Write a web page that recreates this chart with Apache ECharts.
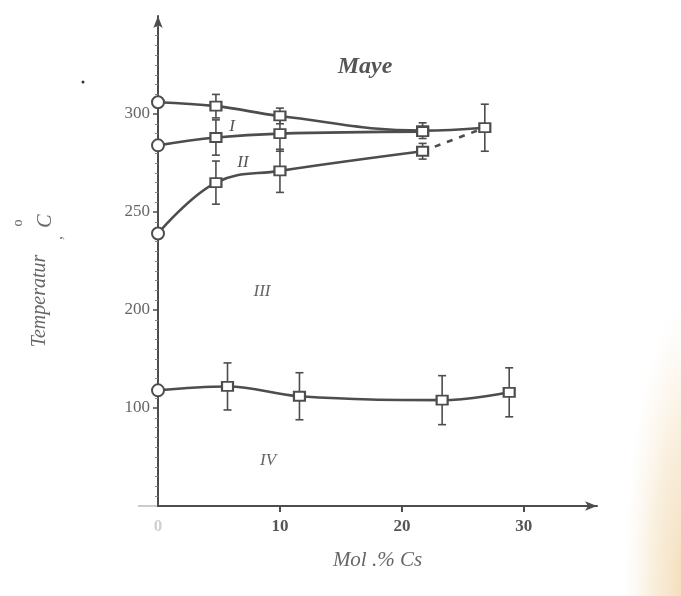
<!DOCTYPE html>
<html><head><meta charset="utf-8">
<script src="https://cdn.jsdelivr.net/npm/echarts@6/dist/echarts.min.js"></script>
<style>html,body{margin:0;padding:0;background:#fff}#c{width:681px;height:596px}</style>
</head><body><div id="c"></div>
<script>
// ---- data (x = mol % Cs, y = axis units) ----
var topX = [0, 4.75, 10, 21.7, 26.8];
var topY = [306, 304, 299, 291.5, 293];
var topErr = [0, 6, 4, 4, 12];
var iX = [0, 4.75, 10, 21.7];
var iY = [284, 288, 290, 291];
var iErr = [0, 9, 9, 0];
var iiX = [0, 4.75, 10, 21.7];
var iiY = [239, 265, 271, 281];
var iiErr = [0, 11, 11, 4];
var dashX = [21.7, 26.8];
var dashY = [281, 293];
var lowX = [0, 5.7, 11.6, 23.3, 28.8];
var lowY = [159, 161, 156, 154, 158];
var lowErr = [0, 12, 12, 12.5, 12.5];
var xTicks = [0, 10, 20, 30];
var xTickLabels = ['0', '10', '20', '30'];
var yTicks = [150, 200, 250, 300];
var yTickLabels = ['100', '200', '250', '300'];

var C = '#4d4d4d';
function pts(xs, ys) {
  return xs.map(function (x, i) {
    return {
      value: [x, ys[i]],
      symbol: x === 0 ? 'circle' : 'rect',
      symbolSize: x === 0 ? 12 : [11, 9]
    };
  });
}
function errs(xs, ys, es) {
  var out = [];
  xs.forEach(function (x, i) { if (es[i] > 0) out.push([x, ys[i] - es[i], ys[i] + es[i]]); });
  return out;
}
var errData = [].concat(errs(topX, topY, topErr), errs(iX, iY, iErr), errs(iiX, iiY, iiErr), errs(lowX, lowY, lowErr));

function lineSeries(xs, ys) {
  return {
    type: 'line', smooth: 0.4, data: pts(xs, ys), z: 3,
    lineStyle: { color: C, width: 2.6 },
    itemStyle: { color: '#fff', borderColor: C, borderWidth: 2 }
  };
}

var chart = echarts.init(document.getElementById('c'));
chart.setOption({
  backgroundColor: '#fff',
  animation: false,
  grid: { left: 158, right: 84, top: 16, bottom: 90, containLabel: false },
  xAxis: {
    type: 'value', min: 0, max: 36, interval: 10,
    name: 'Mol .% Cs', nameLocation: 'middle', nameGap: 44,
    nameTextStyle: { fontFamily: 'Liberation Serif', fontStyle: 'italic', fontSize: 21, color: '#666' },
    axisLine: { show: true, symbol: ['none', 'arrow'], symbolSize: [7, 12], lineStyle: { color: C, width: 2 } },
    axisTick: { show: true, length: 6, lineStyle: { color: C, width: 2 }, customValues: [10, 20, 30] },
    splitLine: { show: false },
    axisLabel: {
      margin: 12, fontFamily: 'Liberation Serif', fontWeight: 'bold', fontSize: 17, color: '#555',
      customValues: xTicks,
      formatter: function (v) {
        var i = xTicks.indexOf(v);
        if (i < 0) return '';
        return v === 0 ? '{z|' + xTickLabels[i] + '}' : xTickLabels[i];
      },
      rich: { z: { color: '#d0d0d0', fontFamily: 'Liberation Serif', fontSize: 17 } }
    }
  },
  yAxis: {
    type: 'value', min: 100, max: 350, interval: 50,
    axisLine: { show: true, symbol: ['none', 'arrow'], symbolSize: [7, 12], lineStyle: { color: C, width: 2 } },
    axisTick: { show: true, length: 5, lineStyle: { color: C, width: 1.5 },
      customValues: yTicks },
    minorTick: { show: true, splitNumber: 10, length: 3, lineStyle: { color: '#888' } },
    splitLine: { show: false },
    axisLabel: {
      margin: 8, fontFamily: 'Liberation Serif', fontSize: 17, color: '#666',
      customValues: yTicks,
      formatter: function (v) { var i = yTicks.indexOf(v); return i < 0 ? '' : yTickLabels[i]; }
    }
  },
  series: [
    lineSeries(topX, topY),
    lineSeries(iX, iY),
    lineSeries(iiX, iiY),
    {
      type: 'line', data: dashX.map(function (x, i) { return [x, dashY[i]]; }), showSymbol: false, z: 2,
      lineStyle: { color: C, width: 2.6, type: [6, 7] }
    },
    lineSeries(lowX, lowY),
    {
      type: 'custom', z: 2, data: errData,
      renderItem: function (params, api) {
        var x = api.value(0);
        var a = api.coord([x, api.value(1)]);
        var b = api.coord([x, api.value(2)]);
        var w = 4;
        var st = { stroke: C, lineWidth: 1.6 };
        return { type: 'group', children: [
          { type: 'line', shape: { x1: a[0], y1: a[1], x2: b[0], y2: b[1] }, style: st },
          { type: 'line', shape: { x1: a[0] - w, y1: a[1], x2: a[0] + w, y2: a[1] }, style: st },
          { type: 'line', shape: { x1: b[0] - w, y1: b[1], x2: b[0] + w, y2: b[1] }, style: st }
        ] };
      }
    }
  ],
  graphic: [
    { type: 'circle', x: 690, y: 600, scaleX: 0.22, shape: { cx: 0, cy: 0, r: 300 }, silent: true, z: -10,
      style: { fill: new echarts.graphic.RadialGradient(0.5, 0.5, 0.5, [{ offset: 0, color: 'rgba(238,205,150,0.75)' }, { offset: 0.6, color: 'rgba(240,212,165,0.35)' }, { offset: 1, color: 'rgba(245,225,190,0)' }]) } },
    { type: 'line', shape: { x1: 138, y1: 506, x2: 158, y2: 506 }, style: { stroke: '#bbb', lineWidth: 1.5 } },
    { type: 'text', x: 365, y: 67, style: { text: 'Maye', font: 'italic bold 24px "Liberation Serif"', fill: '#555', align: 'center', verticalAlign: 'middle' } },
    { type: 'text', x: 232, y: 127, style: { text: 'I', font: 'italic 17px "Liberation Serif"', fill: '#555', align: 'center', verticalAlign: 'middle' } },
    { type: 'text', x: 243, y: 163, style: { text: 'II', font: 'italic 17px "Liberation Serif"', fill: '#555', align: 'center', verticalAlign: 'middle' } },
    { type: 'text', x: 262, y: 292, style: { text: 'III', font: 'italic 17px "Liberation Serif"', fill: '#666', align: 'center', verticalAlign: 'middle' } },
    { type: 'text', x: 268, y: 461, style: { text: 'IV', font: 'italic 17px "Liberation Serif"', fill: '#666', align: 'center', verticalAlign: 'middle' } },
    { type: 'text', x: 40, y: 301, rotation: Math.PI / 2, style: { text: 'Temperatur', font: 'italic 20px "Liberation Serif"', fill: '#666', align: 'center', verticalAlign: 'middle' } },
    { type: 'text', x: 58, y: 238, rotation: Math.PI / 2, style: { text: ',', font: 'italic 16px "Liberation Serif"', fill: '#777', align: 'center', verticalAlign: 'middle' } },
    { type: 'text', x: 46, y: 221, rotation: Math.PI / 2, style: { text: 'C', font: 'italic 20px "Liberation Serif"', fill: '#666', align: 'center', verticalAlign: 'middle' } },
    { type: 'text', x: 18, y: 223, rotation: Math.PI / 2, style: { text: 'o', font: '14px "Liberation Serif"', fill: '#666', align: 'center', verticalAlign: 'middle' } },
    { type: 'circle', x: 83, y: 82, shape: { r: 1.5 }, style: { fill: '#333' } }
  ]
});
</script></body></html>
